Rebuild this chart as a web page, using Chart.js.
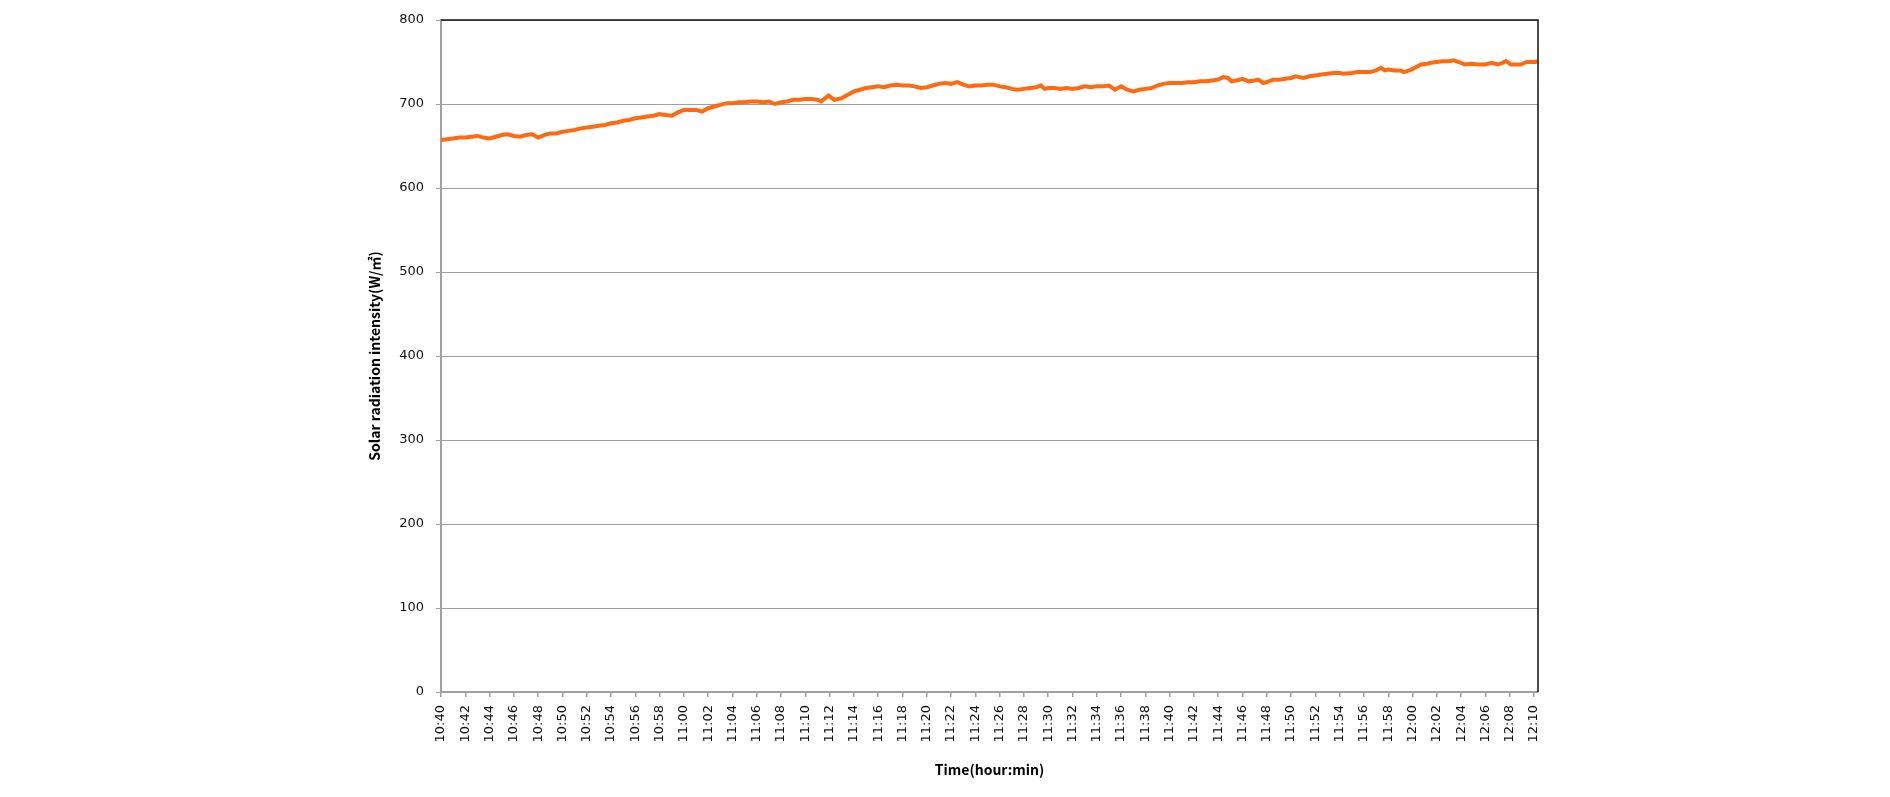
<!DOCTYPE html>
<html><head><meta charset="utf-8">
<script src="https://cdn.jsdelivr.net/npm/chart.js@4.4.0/dist/chart.umd.min.js"></script>
<style>html,body{margin:0;padding:0;background:#fff;overflow:hidden}canvas{display:block}</style>
</head><body>
<canvas id="c" width="1890" height="797"></canvas>
<script>
const timeLabels = ["10:40","10:42","10:44","10:46","10:48","10:50","10:52","10:54","10:56","10:58",
  "11:00","11:02","11:04","11:06","11:08","11:10","11:12","11:14","11:16","11:18",
  "11:20","11:22","11:24","11:26","11:28","11:30","11:32","11:34","11:36","11:38",
  "11:40","11:42","11:44","11:46","11:48","11:50","11:52","11:54","11:56","11:58",
  "12:00","12:02","12:04","12:06","12:08","12:10"];

// minutes elapsed since 10:40
const minutes = [0,0.5,1,1.5,2,2.5,3,3.5,4,4.5,5,5.5,6,6.5,7,7.5,8,8.5,9,9.5,
  10,10.5,11,11.5,12,12.5,13,13.5,14,14.5,15,15.5,16,16.5,17,17.5,18,18.5,19,19.5,
  20,20.5,21,21.5,22,22.5,23,23.5,24,24.5,25,25.5,26,26.5,27,27.5,28,28.5,29,29.5,
  30,30.5,31,31.3,31.9,32.4,33,33.5,34,34.5,35,35.5,36,36.5,37,37.5,38,38.5,39,39.5,
  40,40.5,41,41.5,42,42.5,43,43.5,44,44.5,45,45.5,46,46.5,47,47.5,48,48.5,49,49.4,49.7,
  50,50.5,51,51.5,52,52.5,53,53.5,54,54.5,55,55.5,56,56.5,57,57.5,58,58.5,59,59.5,
  60,60.5,61,61.5,62,62.5,63,63.5,64,64.4,64.8,65.1,65.5,66,66.5,67,67.3,67.7,68,68.5,
  69,69.5,70,70.4,71,71.5,72,72.5,73,73.5,74,74.3,75,75.5,76,76.5,77,77.4,77.7,78,78.5,
  79,79.3,79.9,80.3,80.7,81.2,81.5,82,82.5,83,83.4,83.8,84.3,84.8,85.4,86,86.5,87,87.4,87.7,
  88.1,88.5,88.9,89.4,90.1,90.3];

// solar radiation intensity (W/㎡)
const radiation = [657,658,659,660,660,661,662,660,659,661,663,664,662,661,663,664,660,663,665,665,
  667,668,669,671,672,673,674,675,677,678,680,681,683,684,685,686,688,687,686,690,
  693,693,693,691,695,697,699,701,701,702,702,703,703,702,703,700,702,703,705,705,
  706,706,705,703,710,705,707,711,715,717,719,720,721,720,722,723,722,722,721,719,
  720,722,724,725,724,726,723,721,722,722,723,723,721,720,718,717,718,719,720,722,718,
  719,719,718,719,718,719,721,720,721,721,722,717,721,717,715,717,718,719,722,724,
  725,725,725,726,726,727,727,728,729,732,731,727,728,730,727,728,729,725,726,729,
  729,730,731,733,731,733,734,735,736,737,737,736,737,738,738,738,740,743,740,741,740,
  740,738,741,744,747,748,749,750,751,751,752,750,747,748,747,747,749,747,749,751,
  747,747,747,750,750,751];

const yMin = 0, yMax = 800, yStep = 100;
const xStep = 2, xMax = 90.33;

const points = minutes.map((m, i) => ({x: m, y: radiation[i]}));

const frame = {
  id: 'frame',
  afterDraw(chart) {
    const {ctx, chartArea: a} = chart;
    ctx.save();
    ctx.strokeStyle = '#111';
    ctx.lineWidth = 1.5;
    ctx.beginPath();
    ctx.moveTo(a.left, a.top);
    ctx.lineTo(a.right, a.top);
    ctx.lineTo(a.right, a.bottom);
    ctx.stroke();
    ctx.restore();
  }
};

const tickFont = {family: '"DejaVu Sans", Verdana, sans-serif', size: 13};
const titleFont = {family: '"Noto Sans CJK KR", "Noto Sans", sans-serif', size: 14, weight: 'bold'};

new Chart(document.getElementById('c'), {
  type: 'line',
  data: {
    datasets: [{
      data: points,
      borderColor: '#FF6A10',
      borderWidth: 4,
      pointRadius: 0,
      tension: 0,
      fill: false
    }]
  },
  options: {
    responsive: false,
    animation: false,
    devicePixelRatio: 1,
    layout: {padding: {left: 362, right: 352, top: 20, bottom: 15}},
    plugins: {legend: {display: false}, tooltip: {enabled: false}},
    scales: {
      x: {
        type: 'linear',
        min: 0,
        max: xMax,
        afterBuildTicks(scale) {
          scale.ticks = timeLabels.map((_, i) => ({value: i * xStep}));
        },
        afterFit(scale) { scale.height = 90; },
        ticks: {
          autoSkip: false,
          minRotation: 90,
          maxRotation: 90,
          padding: 8,
          color: '#111',
          font: tickFont,
          callback: (v) => timeLabels[Math.round(v / xStep)]
        },
        grid: {drawOnChartArea: false, drawTicks: true, tickLength: 5, color: '#a0a0a0', lineWidth: 1.5},
        border: {display: true, color: '#a0a0a0', width: 1.5},
        title: {display: true, text: 'Time(hour:min)', color: '#000', font: titleFont, padding: {top: 4, bottom: 4}}
      },
      y: {
        min: yMin,
        max: yMax,
        afterFit(scale) { scale.width = 79; },
        ticks: {stepSize: yStep, padding: 12, color: '#111', font: tickFont},
        grid: {color: '#a0a0a0', lineWidth: 1, tickLength: 5, drawTicks: true},
        border: {display: true, color: '#a0a0a0', width: 2},
        title: {display: true, text: 'Solar radiation intensity(W/㎡)', color: '#000', font: titleFont, padding: {top: 4, bottom: 4}}
      }
    }
  },
  plugins: [frame]
});
</script>
</body></html>
